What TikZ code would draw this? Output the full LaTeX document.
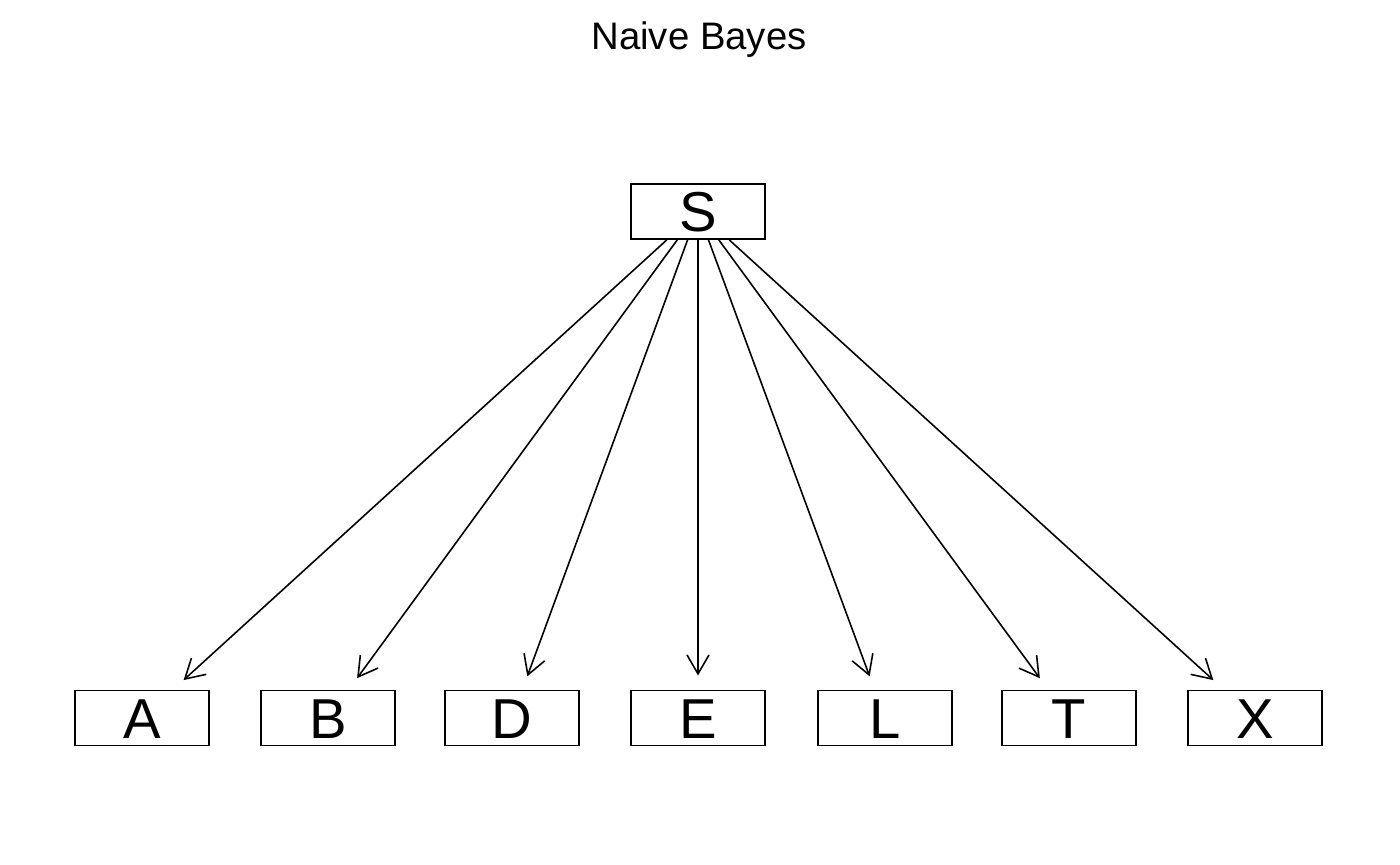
\documentclass[tikz,border=0pt]{standalone}
\usepackage{fontspec}
\setmainfont{Liberation Sans}
\usetikzlibrary{arrows.meta, positioning}

\begin{document}
\begin{tikzpicture}[
  x=0.01cm, y=-0.01cm,
  varbox/.style={draw, line width=0.55pt, minimum width=1.34cm,
                 minimum height=0.55cm, inner sep=0pt,
                 text height=0.40cm, text depth=0pt,
                 font=\fontsize{16}{16}\selectfont},
  edge/.style={-{Straight Barb[length=1.9mm, width=2.2mm]},
               line width=0.45pt, shorten >=0.14cm},
  titlestyle/.style={font=\fontsize{10.9}{12}\selectfont, inner sep=0pt}
]
\useasboundingbox (0,0) rectangle (1400,865);

\node[titlestyle, anchor=base] (title) at (699,50) {Naive Bayes};

\node[varbox] (S) at (698,211.5) {S};

\node[varbox] (A) at (142,718) {A};
\node[varbox] (B) at (328,718) {B};
\node[varbox] (D) at (512,718) {D};
\node[varbox] (E) at (698,718) {E};
\node[varbox] (L) at (885,718) {L};
\node[varbox] (T) at (1069,718) {T};
\node[varbox] (X) at (1255,718) {X};

\foreach \v in {A,B,D,E,L,T,X}
  \draw[edge] (S) -- (\v);

\end{tikzpicture}
\end{document}
